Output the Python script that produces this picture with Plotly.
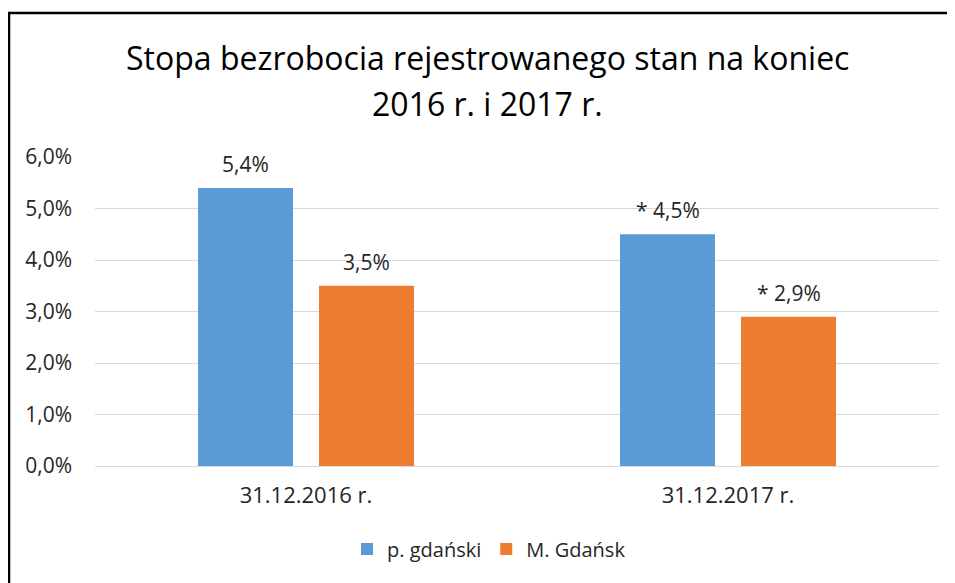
import plotly.graph_objects as go

categories = ["31.12.2016 r.", "31.12.2017 r."]
series_names = ["p. gdański", "M. Gdańsk"]
values_powiat = [5.4, 4.5]
values_miasto = [3.5, 2.9]
labels_powiat = ["5,4%", "* 4,5%"]
labels_miasto = ["3,5%", "* 2,9%"]
colors = ["#5B9BD5", "#ED7D31"]
y_ticks = [0, 1, 2, 3, 4, 5, 6]
y_tick_labels = ["0,0%", "1,0%", "2,0%", "3,0%", "4,0%", "5,0%", "6,0%"]
title_lines = ["Stopa bezrobocia rejestrowanego stan na koniec", "2016 r. i 2017 r."]

FONT = "Open Sans, sans-serif"
TXT = "#262626"

W, H = 947, 575
ML, MR, MT, MB = 87, 16, 149, 117
PW = W - ML - MR
PH = H - MT - MB


def px_x(x):
    return (x - ML) / PW


def px_y(y):
    return (H - MB - y) / PH


fig = go.Figure()
fig.add_trace(go.Bar(name=series_names[0], x=categories, y=values_powiat,
                     marker=dict(color=colors[0], line=dict(width=0)), hoverinfo="skip"))
fig.add_trace(go.Bar(name=series_names[1], x=categories, y=values_miasto,
                     marker=dict(color=colors[1], line=dict(width=0)), hoverinfo="skip"))

annotations = []
for vals, labs, shift in [(values_powiat, labels_powiat, -60.5), (values_miasto, labels_miasto, 60.5)]:
    for c, v, t in zip(categories, vals, labs):
        annotations.append(dict(x=c, y=v, xref="x", yref="y", text=t, showarrow=False,
                                xshift=shift, yshift=24, yanchor="middle",
                                font=dict(family=FONT, size=21, color=TXT)))

for line, yc in zip(title_lines, [50, 95]):
    annotations.append(dict(x=px_x(479), y=px_y(yc), xref="paper", yref="paper", text=line,
                            showarrow=False, xanchor="center", yanchor="middle",
                            font=dict(family=FONT, size=32, color="#000000")))

fig.update_layout(
    width=W, height=H,
    margin=dict(l=ML, r=MR, t=MT, b=MB),
    paper_bgcolor="white", plot_bgcolor="white",
    separators=", ",
    barmode="group", bargap=0.4265, bargroupgap=0.215,
    font=dict(family=FONT, size=20, color=TXT),
    xaxis=dict(showgrid=False, showline=False, ticks="", ticklabelstandoff=14,
               tickfont=dict(size=22, color=TXT)),
    yaxis=dict(range=[0, 6], tickvals=y_ticks, ticktext=y_tick_labels,
               showgrid=True, gridcolor="#D9D9D9", gridwidth=1,
               zeroline=True, zerolinecolor="#D9D9D9", zerolinewidth=1,
               showline=False, ticks="", ticklabelstandoff=22,
               tickfont=dict(size=21, color=TXT)),
    legend=dict(orientation="h", x=px_x(481), xanchor="center", y=px_y(541), yanchor="middle",
                font=dict(size=20, color=TXT), traceorder="normal", itemwidth=30),
    annotations=annotations,
    shapes=[
        dict(type="line", xref="paper", yref="paper",
             x0=px_x(0), x1=px_x(W), y0=px_y(5), y1=px_y(5),
             line=dict(color="black", width=2.5), layer="above"),
        dict(type="line", xref="paper", yref="paper",
             x0=px_x(1), x1=px_x(1), y0=px_y(4), y1=px_y(H),
             line=dict(color="black", width=2.5), layer="above"),
    ],
)

fig.write_html("out.html", config={"displayModeBar": False})
